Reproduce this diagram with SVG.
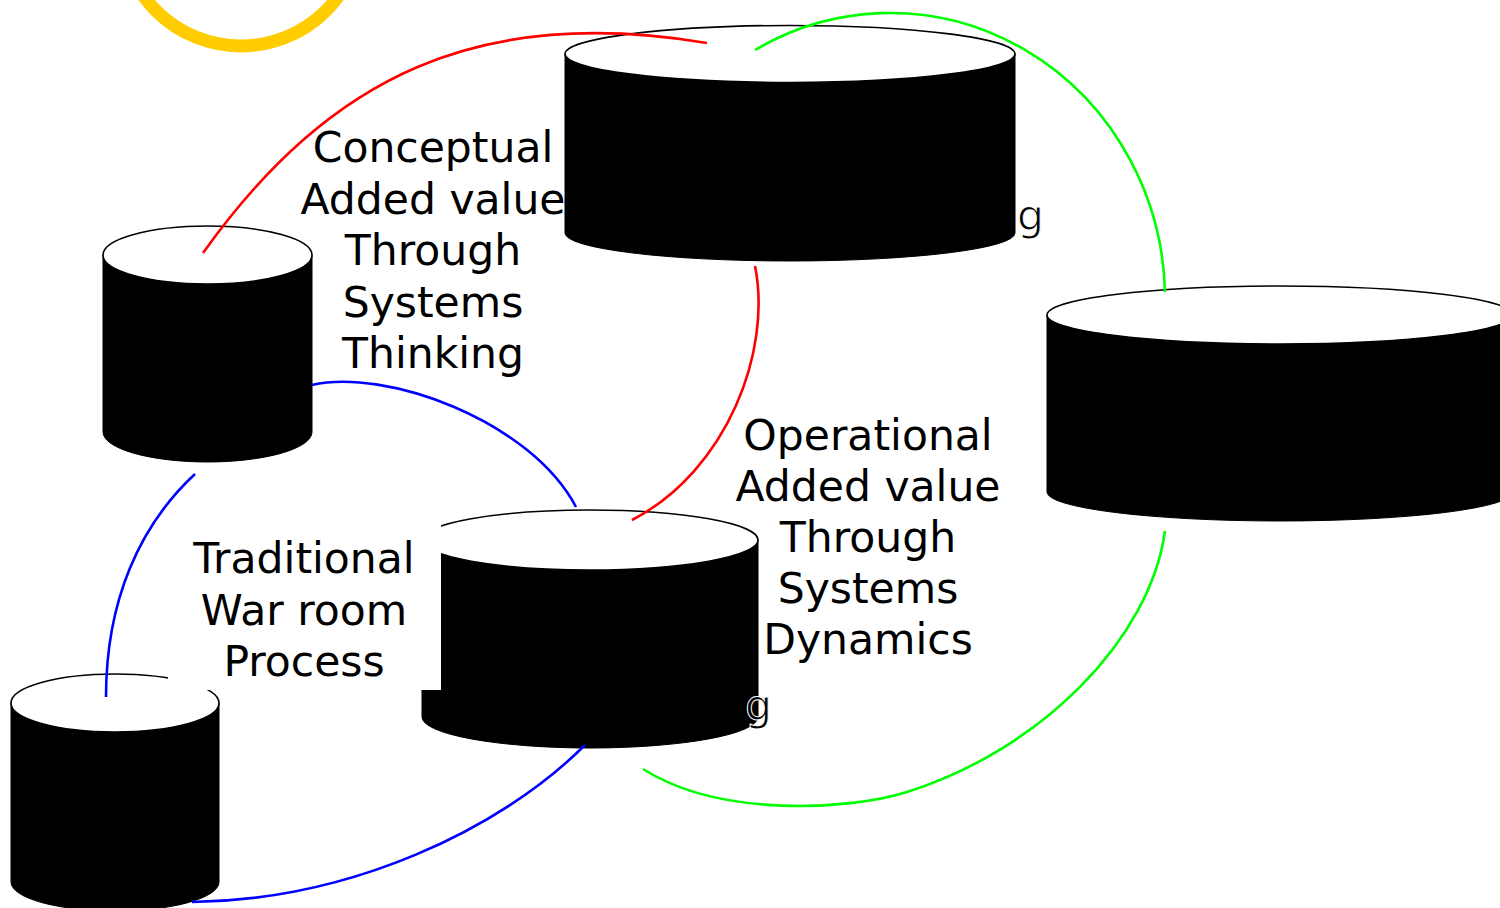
<svg xmlns="http://www.w3.org/2000/svg" width="1500" height="908" viewBox="0 0 1500 908">
  <style>
    .body { fill: #000; stroke: #000; stroke-width: 1; }
    .lid { fill: #fff; stroke: #000; stroke-width: 1.6; }
    .label { font-family: "DejaVu Sans", Verdana, sans-serif; font-size: 42.5px; fill: #000; text-anchor: middle; }
    .tail { font-family: "DejaVu Sans", Verdana, sans-serif; font-size: 42.5px; fill: #000; stroke: #fff; stroke-width: 1; }
    .link { fill: none; stroke-width: 2.6; stroke-linecap: butt; }
    .red { stroke: #ff0000; }
    .green { stroke: #00ff00; }
    .blue { stroke: #0000ff; }
  </style>

  <rect width="1500" height="908" fill="#fff"/>

  <!-- yellow ring at the top edge -->
  <circle id="ring" cx="241" cy="-74" r="120" fill="none" stroke="#ffcc00" stroke-width="13"/>

  <!-- cylinder A (upper left) -->
  <g id="cyl-a">
    <path class="body" d="M103,255 L103,432 A104.5,30 0 0 0 312,432 L312,255 Z"/>
    <ellipse class="lid" cx="207.5" cy="255" rx="104.5" ry="29"/>
  </g>

  <!-- cylinder B (top centre) -->
  <g id="cyl-b">
    <path class="body" d="M565,54 L565,233 A225,28 0 0 0 1015,233 L1015,54 Z"/>
    <ellipse class="lid" cx="790" cy="54" rx="225" ry="28.5"/>
    <text class="tail" x="1017" y="230">g</text>
  </g>

  <!-- cylinder C (right, running off the edge) -->
  <g id="cyl-c">
    <path class="body" d="M1047,315 L1047,492 A233,29 0 0 0 1513,492 L1513,315 Z"/>
    <ellipse class="lid" cx="1280" cy="315" rx="233" ry="29"/>
  </g>

  <!-- cylinder E (bottom left) -->
  <g id="cyl-e">
    <path class="body" d="M11,703 L11,882 A104,29 0 0 0 219,882 L219,703 Z"/>
    <ellipse class="lid" cx="115" cy="703" rx="104" ry="29"/>
  </g>

  <!-- cylinder D (bottom centre) -->
  <g id="cyl-d">
    <path class="body" d="M422,540 L422,717 A168,31 0 0 0 758,717 L758,540 Z"/>
    <ellipse class="lid" cx="590" cy="540" rx="168" ry="30"/>
  </g>

  <!-- label: traditional process (white box partly hides neighbours) -->
  <g id="label-traditional">
    <rect x="168" y="525" width="273" height="165" fill="#fff"/>
    <text class="label" x="304" y="573">Traditional</text>
    <text class="label" x="304" y="625">War room</text>
    <text class="label" x="304" y="676">Process</text>
  </g>

  <g id="cyl-d-tail">
    <text class="tail" x="745" y="720">g</text>
  </g>

  <!-- label: conceptual value -->
  <g id="label-conceptual">
    <text class="label" x="433" y="162">Conceptual</text>
    <text class="label" x="433" y="213.5">Added value</text>
    <text class="label" x="433" y="265">Through</text>
    <text class="label" x="433" y="316.5">Systems</text>
    <text class="label" x="433" y="368">Thinking</text>
  </g>

  <!-- label: operational value -->
  <g id="label-operational">
    <text class="label" x="868" y="450">Operational</text>
    <text class="label" x="868" y="501">Added value</text>
    <text class="label" x="868" y="552">Through</text>
    <text class="label" x="868" y="603">Systems</text>
    <text class="label" x="868" y="654">Dynamics</text>
  </g>

  <!-- connectors -->
  <g id="connectors">
    <path class="link red" d="M203,253 C330,75 480,5 707,43"/>
    <path class="link red" d="M755,266 C772,350 728,470 632,520"/>
    <path class="link green" d="M755,50 A275,287 0 0 1 1165,292"/>
    <path class="link green" d="M1165,531 C1150,640 1040,750 907,792 C850,810 720,818 643,769"/>
    <path class="link blue" d="M312,385 C385,368 530,420 576,507"/>
    <path class="link blue" d="M195,474 C140,525 106,600 106,697"/>
    <path class="link blue" d="M585,745 C500,830 350,900 192,902"/>
  </g>
</svg>
